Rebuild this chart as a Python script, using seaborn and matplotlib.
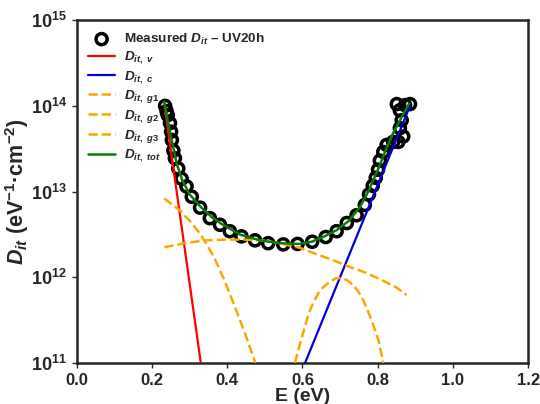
import matplotlib
matplotlib.use("Agg")
import matplotlib.pyplot as plt
import seaborn as sns
import pandas as pd
from matplotlib.ticker import FixedLocator, NullLocator, FormatStrFormatter

# Measured interface trap density (UV 20 h)
E_meas = [0.235, 0.239, 0.242, 0.248, 0.251, 0.253, 0.257, 0.261, 0.270, 0.279,
          0.292, 0.306, 0.328, 0.354, 0.381, 0.407, 0.438, 0.474, 0.509, 0.549,
          0.587, 0.626, 0.662, 0.691, 0.718, 0.744, 0.766, 0.777, 0.787, 0.795,
          0.801, 0.806, 0.815, 0.824, 0.841, 0.855, 0.868, 0.859, 0.864, 0.859,
          0.873, 0.886, 0.851]
Dit_meas = [1.00e14, 8.7e13, 7.8e13, 6.3e13, 5.0e13, 4.0e13, 3.0e13, 2.45e13, 1.86e13, 1.41e13,
            1.15e13, 8.7e12, 6.5e12, 4.9e12, 4.1e12, 3.45e12, 3.0e12, 2.7e12, 2.5e12, 2.42e12,
            2.45e12, 2.6e12, 2.95e12, 3.45e12, 4.3e12, 5.3e12, 7.0e12, 9.3e12, 1.17e13, 1.45e13,
            1.8e13, 2.3e13, 2.9e13, 3.5e13, 3.8e13, 3.8e13, 4.4e13, 5.5e13, 6.8e13, 8.9e13,
            1.02e14, 1.05e14, 1.05e14]

# Valence and conduction band tails
E_v = [0.233, 0.330]
Dit_v = [1.05e14, 1.0e11]
E_c = [0.607, 0.886]
Dit_c = [1.0e11, 1.0e14]

# Gaussian deep-level components
E_g1 = [0.233, 0.275, 0.306, 0.328, 0.345, 0.363, 0.376, 0.390, 0.403, 0.416,
        0.429, 0.443, 0.456, 0.467, 0.475]
Dit_g1 = [8.3e12, 6.0e12, 4.3e12, 3.2e12, 2.45e12, 1.78e12, 1.35e12, 9.8e11, 7.1e11, 5.1e11,
          3.6e11, 2.5e11, 1.74e11, 1.26e11, 1.0e11]
E_g2 = [0.233, 0.288, 0.341, 0.394, 0.447, 0.492, 0.540, 0.594, 0.638, 0.682,
        0.726, 0.771, 0.815, 0.850, 0.877]
Dit_g2 = [2.24e12, 2.5e12, 2.7e12, 2.75e12, 2.75e12, 2.7e12, 2.5e12, 2.2e12, 1.86e12, 1.58e12,
          1.32e12, 1.12e12, 9.1e11, 7.6e11, 6.2e11]
E_g3 = [0.580, 0.594, 0.616, 0.630, 0.647, 0.673, 0.688, 0.704, 0.720, 0.735,
        0.748, 0.762, 0.784, 0.802, 0.815]
Dit_g3 = [1.0e11, 1.7e11, 3.7e11, 5.2e11, 7.1e11, 8.9e11, 9.7e11, 9.8e11, 9.2e11, 8.1e11,
          6.9e11, 5.4e11, 3.16e11, 1.86e11, 1.0e11]

# Total fitted density
E_tot = [0.233, 0.240, 0.247, 0.255, 0.266, 0.280, 0.300, 0.330, 0.360, 0.385,
         0.434, 0.487, 0.540, 0.593, 0.625, 0.655, 0.691, 0.722, 0.753, 0.775,
         0.788, 0.803, 0.815, 0.841, 0.864, 0.884]
Dit_tot = [1.12e14, 7.6e13, 5.2e13, 3.55e13, 2.1e13, 1.38e13, 9.3e12, 6.6e12, 5.0e12, 4.2e12,
           3.15e12, 2.7e12, 2.5e12, 2.45e12, 2.6e12, 2.95e12, 3.55e12, 4.5e12, 6.6e12, 1.0e13,
           1.35e13, 1.9e13, 2.6e13, 4.8e13, 7.4e13, 1.07e14]

x_ticks = [0.0, 0.2, 0.4, 0.6, 0.8, 1.0, 1.2]
y_ticks = [1e11, 1e12, 1e13, 1e14, 1e15]

sns.set_style("ticks")
plt.rcParams.update({
    "font.family": ["Liberation Sans", "DejaVu Sans"],
    "font.weight": "bold",
    "axes.labelweight": "bold",
    "mathtext.fontset": "custom",
    "mathtext.rm": "Liberation Sans:bold",
    "mathtext.bf": "Liberation Sans:bold",
    "mathtext.sf": "Liberation Sans:bold",
    "mathtext.it": "Liberation Sans:italic:bold",
    "axes.linewidth": 1.8,
})

fig, ax = plt.subplots(figsize=(5.4, 4.04), dpi=100)
fig.subplots_adjust(left=0.142, right=0.978, top=0.950, bottom=0.1015)

meas = pd.DataFrame({"E": E_meas, "Dit": Dit_meas})
sns.scatterplot(data=meas, x="E", y="Dit", ax=ax, marker="o", s=64,
                facecolors="none", edgecolor="black", linewidth=2.5,
                label=r"Measured $D_{it}$ – UV20h", zorder=2)

sns.lineplot(x=E_v, y=Dit_v, ax=ax, color="#ff0000", linewidth=1.6,
             label=r"$D_{it,\ v}$", zorder=3)
sns.lineplot(x=E_c, y=Dit_c, ax=ax, color="#0000dd", linewidth=1.6,
             label=r"$D_{it,\ c}$", zorder=3)
for E_g, Dit_g, name in [(E_g1, Dit_g1, "g1"), (E_g2, Dit_g2, "g2"), (E_g3, Dit_g3, "g3")]:
    sns.lineplot(x=E_g, y=Dit_g, ax=ax, color="#ffa500", linewidth=1.8,
                 linestyle="--", label=r"$D_{it,\ %s}$" % name, zorder=3)
sns.lineplot(x=E_tot, y=Dit_tot, ax=ax, color="#0a7a0a", linewidth=1.8,
             label=r"$D_{it,\ tot}$", zorder=4)

ax.set_yscale("log")
ax.set_xlim(0, 1.2)
ax.set_ylim(1e11, 1e15)
ax.xaxis.set_major_locator(FixedLocator(x_ticks))
ax.xaxis.set_major_formatter(FormatStrFormatter("%.1f"))
ax.yaxis.set_major_locator(FixedLocator(y_ticks))
ax.yaxis.set_minor_locator(NullLocator())
ax.tick_params(axis="x", labelsize=12, length=3.5, width=1.0, direction="out")
ax.tick_params(axis="y", labelsize=13, length=3.5, width=1.0, direction="out")
for lbl in ax.get_xticklabels() + ax.get_yticklabels():
    lbl.set_fontweight("bold")

ax.set_xlabel("E (eV)", fontsize=14, fontweight="bold", labelpad=0)
ax.set_ylabel(r"$D_{it}$ (eV$^{-1}$·cm$^{-2}$)", fontsize=15.5, fontweight="bold", labelpad=0)

leg = ax.legend(loc="upper left", frameon=False, fontsize=9.7, handlelength=2.0,
                handletextpad=0.65, labelspacing=0.2, borderaxespad=0.45)
for t in leg.get_texts():
    t.set_fontweight("bold")

fig.savefig("out.png", dpi=100)
